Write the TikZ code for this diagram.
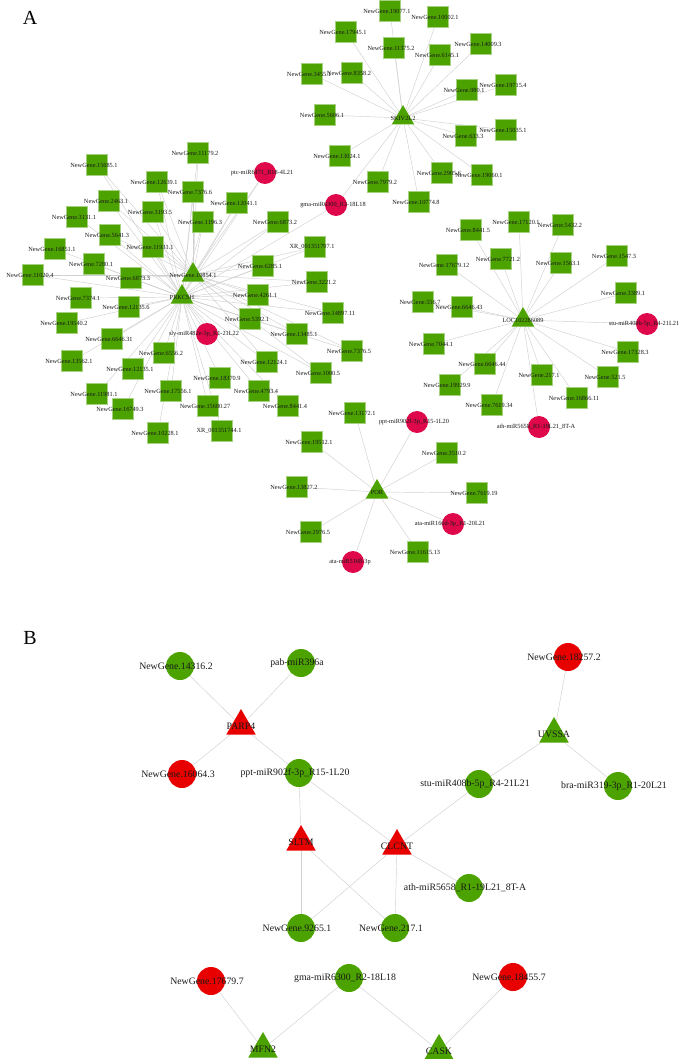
\documentclass[tikz,border=0pt]{standalone}
\usepackage{fontspec}
\setmainfont{Liberation Serif}
\usetikzlibrary{shapes.geometric,backgrounds}
\definecolor{gA}{RGB}{76,163,0}
\definecolor{rA}{RGB}{222,8,74}
\definecolor{rB}{RGB}{232,0,0}
\definecolor{edgec}{RGB}{208,208,208}
\newcommand\sqA[4]{\node[sqa,label={[laba,xshift=-3pt]center:#4}] (#1) at (#2,#3) {};}
\newcommand\ciA[4]{\node[cia,label={[laba,xshift=-3pt]center:#4}] (#1) at (#2,#3) {};}
\newcommand\trA[4]{\node[tra,label={[laba]center:#4}] (#1) at (#2,#3) {};}
\newcommand\ciB[5]{\node[cib,fill=#5,label={[labb,xshift=-4pt]center:#4}] (#1) at (#2,#3) {};}
\newcommand\trB[5]{\node[trb,fill=#5,label={[labb]center:#4}] (#1) at (#2,#3) {};}
\begin{document}
\begin{tikzpicture}[x=1pt,y=-1pt,
 laba/.style={font=\fontsize{6.3}{7}\selectfont,inner sep=0,text=black!90},
 labb/.style={font=\fontsize{9.8}{11}\selectfont,inner sep=0,text=black!90},
 sqa/.style={rectangle,fill=gA,draw=gA!50!white,line width=0.5pt,minimum size=21pt,inner sep=0},
 cia/.style={circle,fill=rA,minimum size=22pt,inner sep=0},
 tra/.style={regular polygon,regular polygon sides=3,fill=gA,minimum size=26pt,inner sep=0},
 cib/.style={circle,minimum size=28pt,inner sep=0},
 trb/.style={regular polygon,regular polygon sides=3,minimum size=34pt,inner sep=0},
 edge/.style={draw=edgec,line width=0.45pt},
 panel/.style={font=\fontsize{20}{22}\selectfont,inner sep=0}]
\useasboundingbox (0,0) rectangle (685,1059);
\node[panel] (pA) at (30,18) {A};
\node[panel] (pB) at (30,638) {B};
% ---------- SKIV2L2 cluster
\trA{tSK}{403}{118}{SKIV2L2}
\sqA{s19077}{390}{11}{NewGene.19077.1}
\sqA{s10002}{438}{17}{NewGene.10002.1}
\sqA{s17945}{346}{32}{NewGene.17945.1}
\sqA{s11375}{394}{48}{NewGene.11375.2}
\sqA{s6145}{440}{55}{NewGene.6145.1}
\sqA{s14009}{481}{44}{NewGene.14009.3}
\sqA{s3455}{312}{74}{NewGene.3455.1}
\sqA{s8358}{352}{73}{NewGene.8358.2}
\sqA{s19715}{506}{85}{NewGene.19715.4}
\sqA{s980}{467}{90}{NewGene.980.1}
\sqA{s5606}{325}{115}{NewGene.5606.1}
\sqA{s633}{466}{136}{NewGene.633.3}
\sqA{s15035}{506}{130}{NewGene.15035.1}
\sqA{s13024}{340}{156}{NewGene.13024.1}
\sqA{s19060}{482}{175}{NewGene.19060.1}
\sqA{s2905}{442}{173}{NewGene.2905.6}
\sqA{s7979}{378}{182}{NewGene.7979.2}
\sqA{s10774}{419}{202}{NewGene.10774.8}
% ---------- PRKCSH cluster
\sqA{s11179}{198}{153}{NewGene.11179.2}
\sqA{s15685}{97}{165}{NewGene.15685.1}
\sqA{s12639}{157}{182}{NewGene.12639.1}
\sqA{s73766}{193}{192}{NewGene.7376.6}
\sqA{s12041}{237}{203}{NewGene.12041.1}
\sqA{s2463}{109}{201}{NewGene.2463.1}
\sqA{s3193}{153}{212}{NewGene.3193.5}
\sqA{s3131}{77}{217}{NewGene.3131.1}
\sqA{s1196}{203}{222}{NewGene.1196.3}
\sqA{s5641}{110}{235}{NewGene.5641.3}
\sqA{s11931}{153}{247}{NewGene.11931.1}
\sqA{s16851}{55}{249}{NewGene.16851.1}
\sqA{s7280}{94}{264}{NewGene.7280.1}
\sqA{s68733}{131}{278}{NewGene.6873.3}
\sqA{s11020}{33}{275}{NewGene.11020.4}
\sqA{s7374}{81}{298}{NewGene.7374.1}
\sqA{s121356}{129}{307}{NewGene.12135.6}
\sqA{s68732}{278}{222}{NewGene.6873.2}
\sqA{sXRa}{315}{247}{XR\_001351797.1}
\sqA{s6285}{263}{266}{NewGene.6285.1}
\sqA{s3221}{317}{282}{NewGene.3221.2}
\sqA{s4261}{258}{295}{NewGene.4261.1}
\sqA{s14897}{333}{313}{NewGene.14897.11}
\sqA{s5392}{250}{319}{NewGene.5392.1}
\sqA{s13485}{297}{334}{NewGene.13485.1}
\sqA{s73765}{352}{351}{NewGene.7376.5}
\sqA{s12124}{267}{362}{NewGene.12124.1}
\sqA{s1000}{321}{373}{NewGene.1000.5}
\sqA{s4793}{259}{391}{NewGene.4793.4}
\sqA{s84414}{288}{406}{NewGene.8441.4}
\sqA{s19540}{67}{323}{NewGene.19540.2}
\sqA{s664631}{112}{339}{NewGene.6646.31}
\sqA{s6556}{164}{353}{NewGene.6556.2}
\sqA{s13562}{72}{361}{NewGene.13562.1}
\sqA{s121351}{133}{369}{NewGene.12135.1}
\sqA{s18370}{220}{378}{NewGene.18370.9}
\sqA{s17556}{171}{391}{NewGene.17556.1}
\sqA{s11981}{97}{394}{NewGene.11981.1}
\sqA{s15680}{208}{406}{NewGene.15680.27}
\sqA{s16749}{123}{409}{NewGene.16749.3}
\sqA{s10228}{158}{433}{NewGene.10228.1}
\sqA{sXRb}{222}{431}{XR\_001351744.1}
\ciA{cptc}{265}{173}{ptc-miR6471\_R18-4L21}
\ciA{cgma}{336}{205}{gma-miR6300\_R2-18L18}
\ciA{csly}{207}{334}{sly-miR482e-3p\_R1-21L22}
\trA{t10854}{193}{275}{NewGene.10854.1}
\trA{tPRK}{182}{297}{PRKCSH}
% ---------- LOC cluster
\sqA{s17120}{519}{222}{NewGene.17120.1}
\sqA{s5432}{563}{225}{NewGene.5432.2}
\sqA{s84415}{471}{230}{NewGene.8441.5}
\sqA{s7721}{501}{259}{NewGene.7721.2}
\sqA{s1563}{561}{263}{NewGene.1563.1}
\sqA{s1547}{617}{256}{NewGene.1547.3}
\sqA{s17679}{447}{265}{NewGene.17679.12}
\sqA{s3389}{626}{293}{NewGene.3389.1}
\sqA{s556}{423}{302}{NewGene.556.7}
\sqA{s664643}{462}{307}{NewGene.6646.43}
\sqA{s7044}{434}{344}{NewGene.7044.1}
\sqA{s17328}{628}{352}{NewGene.17328.3}
\sqA{s664644}{485}{364}{NewGene.6646.44}
\sqA{s217}{542}{375}{NewGene.217.1}
\sqA{s521}{608}{377}{NewGene.521.5}
\sqA{s19929}{450}{385}{NewGene.19929.9}
\sqA{s16866}{577}{398}{NewGene.16866.11}
\sqA{s761934}{492}{405}{NewGene.7619.34}
\ciA{cstu}{647}{324}{stu-miR408b-5p\_R4-21L21}
\ciA{cath}{539}{427}{ath-miR5658\_R1-19L21\_8T-A}
\trA{tLOC}{523}{320}{LOC102286089}
% ---------- POR cluster
\sqA{s13172}{355}{413}{NewGene.13172.1}
\sqA{s19512}{312}{442}{NewGene.19512.1}
\sqA{s13827}{297}{487}{NewGene.13827.2}
\sqA{s2976}{311}{532}{NewGene.2976.5}
\sqA{s3510}{447}{453}{NewGene.3510.2}
\sqA{s761919}{477}{493}{NewGene.7619.19}
\sqA{s11615}{418}{552}{NewGene.11615.13}
\ciA{cppt}{417}{422}{ppt-miR902f-3p\_R15-1L20}
\ciA{c166}{453}{524}{ata-miR166d-3p\_R1-20L21}
\ciA{c5168}{353}{562}{ata-miR5168-3p}
\trA{tPOR}{377}{492}{POR}
% ---------- Panel B
\ciB{b14316}{180}{666}{NewGene.14316.2}{gA}
\ciB{bpab}{301}{663}{pab-miR396a}{gA}
\trB{bPARP}{241}{726}{PARP4}{rB}
\ciB{b16064}{182}{774}{NewGene.16064.3}{rB}
\ciB{bppt}{299}{773}{ppt-miR902f-3p\_R15-1L20}{gA}
\ciB{b18257}{568}{657}{NewGene.18257.2}{rB}
\trB{bUV}{554}{734}{UVSSA}{gA}
\ciB{bstu}{479}{784}{stu-miR408b-5p\_R4-21L21}{gA}
\ciB{bbra}{618}{786}{bra-miR319-3p\_R1-20L21}{gA}
\trB{bSLTM}{301}{842}{SLTM}{rB}
\trB{bCL}{397}{846}{CLCNT}{rB}
\ciB{bath}{469}{888}{ath-miR5658\_R1-19L21\_8T-A}{gA}
\ciB{b9265}{301}{928}{NewGene.9265.1}{gA}
\ciB{b217}{395}{928}{NewGene.217.1}{gA}
\ciB{b17679}{211}{981}{NewGene.17679.7}{rB}
\ciB{bgma}{349}{978}{gma-miR6300\_R2-18L18}{gA}
\ciB{b18455}{513}{977}{NewGene.18455.7}{rB}
\trB{bMFN}{263}{1049}{MFN2}{gA}
\trB{bCASK}{439}{1051}{CASK}{gA}
% ---------- edges
\begin{pgfonlayer}{background}
\foreach \n in {s19077,s10002,s17945,s11375,s6145,s14009,s3455,s8358,s19715,s980,s5606,s633,s15035,s13024,s19060,s2905,s7979,s10774,cgma}
  \draw[edge] (tSK) -- (\n);
\foreach \n in {s11179,s15685,s12639,s73766,s12041,s2463,s3193,s3131,s1196,s5641,s11931,s16851,s7280,s68733,s11020,s7374,s121356,s68732,sXRa,s6285,s3221,s4261,s14897,s5392,s13485,s73765,s12124,s1000,s4793,s84414,s19540,s664631,s6556,s13562,s121351,s18370,s17556,s11981,s15680,s16749,s10228,sXRb,cptc,cgma,csly,t10854}
  \draw[edge] (tPRK) -- (\n);
\foreach \n in {s11179,s15685,s12639,s73766,s12041,s2463,s3193,s1196,s5641,s11931,s68733,s11020,s68732,sXRa,s6285,s3221,s4261,s14897,s5392,s13485,s73765,s12124,s1000,cptc}
  \draw[edge] (t10854) -- (\n);
\foreach \n in {s17120,s5432,s84415,s7721,s1563,s1547,s17679,s3389,s556,s664643,s7044,s17328,s664644,s217,s521,s19929,s16866,s761934,cstu,cath}
  \draw[edge] (tLOC) -- (\n);
\foreach \n in {s13172,s19512,s13827,s2976,s3510,s761919,s11615,cppt,c166,c5168}
  \draw[edge] (tPOR) -- (\n);
\foreach \a/\b in {bPARP/b14316,bPARP/bpab,bPARP/b16064,bPARP/bppt,bppt/bSLTM,bppt/bCL,bUV/b18257,bUV/bstu,bUV/bbra,bstu/bCL,bCL/bath,bCL/b217,bCL/b9265,bSLTM/b9265,bSLTM/b217,bMFN/b17679,bMFN/bgma,bCASK/bgma,bCASK/b18455}
  \draw[edge] (\a) -- (\b);
\end{pgfonlayer}
\end{tikzpicture}
\end{document}
